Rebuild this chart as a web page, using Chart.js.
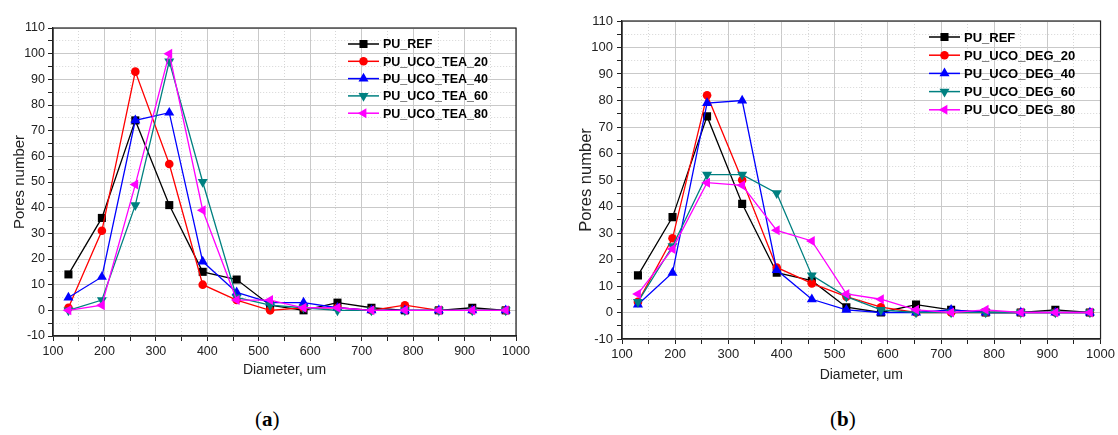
<!DOCTYPE html>
<html lang="en">
<head>
<meta charset="UTF-8">
<title>Pores number vs diameter</title>
<script src="https://cdn.jsdelivr.net/npm/chart.js"></script>
<style>
    body { margin: 0; background: #fff; width: 1118px; height: 435px; position: relative; overflow: hidden; }
    .box { position: absolute; top: 0; height: 400px; }
    #boxA { left: 0; width: 540px; }
    #boxB { left: 560px; width: 558px; }
    .tag { position: absolute; top: 407px; font-family: "Liberation Serif", "DejaVu Serif", serif; font-size: 21px; color: #000; }
    .tag b { font-weight: bold; }
</style>
</head>
<body>
<div class="box" id="boxA"><canvas id="chartA"></canvas></div>
<div class="box" id="boxB"><canvas id="chartB"></canvas></div>
<div class="tag" style="left:255px">(<b>a</b>)</div>
<div class="tag" style="left:830px">(<b>b</b>)</div>

<script>
    // diametros (um)
    const diameters = [130, 195, 260, 326, 391, 457, 522, 587, 653, 719, 784, 850, 915, 980];

    // (a) TEA
    const puRef = [14, 36, 74, 41, 15, 12, 2, 0, 3, 1, 0, 0, 1, 0];
    const tea20 = [1, 31, 93, 57, 10, 4, 0, 1, 1, 0, 2, 0, 0, 0];
    const tea40 = [5, 13, 74, 77, 19, 7, 3, 3, 1, 0, 0, 0, 0, 0];
    const tea60 = [0, 4, 41, 97, 50, 5, 2, 1, 0, 0, 0, 0, 0, 0];
    const tea80 = [0, 2, 49, 100, 39, 4, 4, 1, 1, 0, 0, 0, 0, 0];

    // (b) DEG
    const deg20 = [4, 28, 82, 50, 17, 11, 6, 2, 0, 0, 0, 0, 0, 0];
    const deg40 = [3, 15, 79, 80, 16, 5, 1, 0, 0, 1, 0, 0, 0, 0];
    const deg60 = [4, 25, 52, 52, 45, 14, 6, 1, 0, 0, 0, 0, 0, 0];
    const deg80 = [7, 24, 49, 48, 31, 27, 7, 5, 1, 0, 1, 0, 0, 0];

    const namesA = ['PU_REF', 'PU_UCO_TEA_20', 'PU_UCO_TEA_40', 'PU_UCO_TEA_60', 'PU_UCO_TEA_80'];
    const namesB = ['PU_REF', 'PU_UCO_DEG_20', 'PU_UCO_DEG_40', 'PU_UCO_DEG_60', 'PU_UCO_DEG_80'];

    const xTicks = [100, 200, 300, 400, 500, 600, 700, 800, 900, 1000];
    const yTicks = [-10, 0, 10, 20, 30, 40, 50, 60, 70, 80, 90, 100, 110];

    const cores = ['#000000', '#ff0000', '#0000ff', '#008080', '#ff00ff'];
    const estilos = ['rect', 'circle', 'triangle', 'triangle', 'triangle'];
    const rotacoes = [0, 0, 0, 180, 270];
    const raios = [5.7, 4.3, 5.8, 5.8, 5.8];

    const fonte = '"Liberation Sans", Arial, sans-serif';

    function montarDatasets(nomes, series) {
        return series.map((s, i) => ({
            label: nomes[i],
            data: diameters.map((d, j) => ({ x: d, y: s[j] })),
            borderColor: cores[i],
            backgroundColor: cores[i],
            borderWidth: 1.3,
            pointStyle: estilos[i],
            pointRotation: rotacoes[i],
            pointRadius: raios[i],
            pointBorderWidth: 0,
            tension: 0,
            order: 4 - i
        }));
    }

    function marcador(ctx, estilo, rot, r, x, y) {
        ctx.save();
        ctx.translate(x, y);
        ctx.rotate(rot * Math.PI / 180);
        ctx.beginPath();
        if (estilo === 'rect') {
            const s = r * Math.SQRT1_2;
            ctx.rect(-s, -s, 2 * s, 2 * s);
        } else if (estilo === 'circle') {
            ctx.arc(0, 0, r, 0, Math.PI * 2);
        } else {
            const h = r * 1.5, w = r * 1.732;
            ctx.moveTo(0, -r);
            ctx.lineTo(w / 2, h - r);
            ctx.lineTo(-w / 2, h - r);
            ctx.closePath();
        }
        ctx.fill();
        ctx.restore();
    }

    const legendaPlugin = {
        id: 'legendaOrigin',
        afterDatasetsDraw(chart, args, opts) {
            const ctx = chart.ctx;
            ctx.save();
            ctx.font = 'bold ' + opts.size + 'px ' + fonte;
            ctx.textBaseline = 'middle';
            chart.data.datasets.forEach((ds, i) => {
                const y = opts.y + i * opts.row;
                ctx.strokeStyle = ds.borderColor;
                ctx.fillStyle = ds.borderColor;
                ctx.lineWidth = 1.5;
                ctx.beginPath();
                ctx.moveTo(opts.x, y);
                ctx.lineTo(opts.x + 31, y);
                ctx.stroke();
                marcador(ctx, ds.pointStyle, ds.pointRotation, ds.pointRadius, opts.x + 15.5, y);
                ctx.fillStyle = '#000';
                ctx.fillText(ds.label, opts.x + 35, y + 1);
            });
            ctx.restore();
        }
    };

    const molduraPlugin = {
        id: 'moldura',
        afterDraw(chart) {
            const a = chart.chartArea;
            const ctx = chart.ctx;
            ctx.save();
            ctx.strokeStyle = '#222';
            ctx.lineWidth = 1.2;
            ctx.strokeRect(a.left, a.top, a.right - a.left, a.bottom - a.top);
            ctx.restore();
        }
    };

    function criarGrafico(id, nomes, series, cfg) {
        const ctx = document.getElementById(id).getContext('2d');
        return new Chart(ctx, {
            type: 'line',
            data: { datasets: montarDatasets(nomes, series) },
            options: {
                responsive: true,
                maintainAspectRatio: false,
                animation: false,
                layout: { padding: { left: 0, top: cfg.top, right: cfg.right, bottom: 0 } },
                plugins: {
                    legend: { display: false },
                    tooltip: { enabled: false },
                    legendaOrigin: cfg.legenda
                },
                scales: {
                    x: {
                        type: 'linear',
                        min: 100,
                        max: 1000,
                        afterFit: (s) => { s.height = cfg.xh; },
                        ticks: {
                            stepSize: 50,
                            autoSkip: false,
                            maxRotation: 0,
                            padding: 3,
                            color: '#222',
                            font: { family: fonte, size: cfg.fs },
                            callback: (v) => xTicks.includes(v) ? v : ''
                        },
                        grid: {
                            color: (c) => xTicks.includes(c.tick.value) ? '#c9c9c9' : '#d6d6d6',
                            tickColor: '#222',
                            tickLength: 5,
                            lineWidth: 1
                        },
                        border: {
                            color: '#222',
                            width: 1.2,
                            dash: (c) => c.tick && !xTicks.includes(c.tick.value) ? [1, 2] : []
                        },
                        title: {
                            display: true,
                            text: 'Diameter, um',
                            color: '#222',
                            font: { family: fonte, size: 14 },
                            padding: { top: 4, bottom: cfg.xtb }
                        }
                    },
                    y: {
                        min: -10,
                        max: 110,
                        afterFit: (s) => { s.width = cfg.yw; },
                        ticks: {
                            stepSize: 5,
                            autoSkip: false,
                            padding: cfg.yp,
                            color: '#222',
                            font: { family: fonte, size: cfg.fs },
                            callback: (v) => yTicks.includes(v) ? v : ''
                        },
                        grid: {
                            color: (c) => yTicks.includes(c.tick.value) ? '#c9c9c9' : '#d6d6d6',
                            tickColor: '#222',
                            tickLength: 5,
                            lineWidth: 1
                        },
                        border: {
                            color: '#222',
                            width: 1.2,
                            dash: (c) => c.tick && !yTicks.includes(c.tick.value) ? [1, 2] : []
                        },
                        title: {
                            display: true,
                            text: 'Pores number',
                            color: '#222',
                            font: { family: fonte, size: cfg.yts },
                            padding: { top: cfg.ytp, bottom: 4 }
                        }
                    }
                }
            },
            plugins: [legendaPlugin, molduraPlugin]
        });
    }

    criarGrafico('chartA', namesA, [puRef, tea20, tea40, tea60, tea80], {
        top: 28, right: 24, xh: 64, yw: 53, yp: 3, fs: 12.5, xtb: 21, ytp: 11, yts: 15,
        legenda: { x: 348, y: 44, row: 17.3, size: 12.5 }
    });

    criarGrafico('chartB', namesB, [puRef, deg20, deg40, deg60, deg80], {
        top: 21, right: 15, xh: 61, yw: 62, yp: 4, fs: 13, xtb: 16, ytp: 17, yts: 16.5,
        legenda: { x: 369, y: 37, row: 18.2, size: 13 }
    });
</script>
</body>
</html>
